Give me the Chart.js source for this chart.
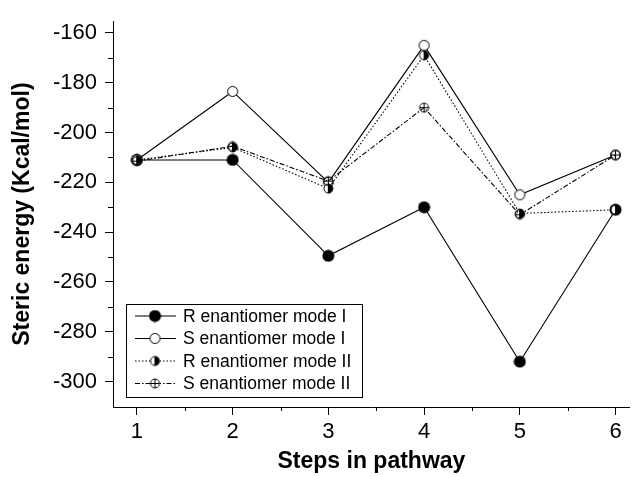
<!DOCTYPE html>
<html>
<head>
<meta charset="utf-8">
<script src="https://cdn.jsdelivr.net/npm/chart.js@4.4.0/dist/chart.umd.min.js"></script>
<style>
  html, body { margin: 0; padding: 0; background: #fff; }
  #wrap { width: 637px; height: 477px; }
</style>
</head>
<body>
<div id="wrap"><canvas id="chart" width="637" height="477"></canvas></div>
<script>
// Data
const steps = [1, 2, 3, 4, 5, 6];
const rModeI  = [-211, -211, -249.5, -230, -292, -231];
const sModeI  = [-211, -183.5, -220, -165, -225, -209];
const rModeII = [-211, -206, -222.5, -169, -232.5, -231];
const sModeII = [-211.5, -205.5, -219.5, -190, -233, -209];
const seriesNames = ['R enantiomer mode I', 'S enantiomer mode I', 'R enantiomer mode II', 'S enantiomer mode II'];

// Tick labels
const xTickValues = [1, 2, 3, 4, 5, 6];
const xMinorTicks = [1.5, 2.5, 3.5, 4.5, 5.5];
const yTickValues = [-160, -180, -200, -220, -240, -260, -280, -300];
const yMinorTicks = [-170, -190, -210, -230, -250, -270, -290];

const FONT = '"Liberation Sans", Arial, Helvetica, sans-serif';

// Build small marker images for the point styles
function makeMarker(kind) {
    const c = document.createElement('canvas');
    c.width = 13; c.height = 13;
    const g = c.getContext('2d');
    const cx = 6.5, cy = 6.5;
    g.lineWidth = 1;
    g.strokeStyle = '#000';
    if (kind === 'filled') {
        g.beginPath(); g.arc(cx, cy, 6, 0, Math.PI * 2);
        g.fillStyle = '#000'; g.fill();
    } else if (kind === 'open') {
        g.beginPath(); g.arc(cx, cy, 5, 0, Math.PI * 2);
        g.fillStyle = '#fff'; g.fill(); g.stroke();
    } else if (kind === 'half') {
        g.beginPath(); g.arc(cx, cy, 4.5, 0, Math.PI * 2);
        g.fillStyle = '#fff'; g.fill();
        g.beginPath(); g.arc(cx, cy, 4.5, -Math.PI / 2, Math.PI / 2);
        g.closePath(); g.fillStyle = '#000'; g.fill();
        g.beginPath(); g.arc(cx, cy, 4.5, 0, Math.PI * 2); g.stroke();
        g.beginPath(); g.moveTo(cx, cy - 4.5); g.lineTo(cx, cy + 4.5); g.stroke();
    } else if (kind === 'cross') {
        g.beginPath(); g.arc(cx, cy, 4.5, 0, Math.PI * 2);
        g.stroke();
        g.beginPath();
        g.moveTo(cx, cy - 4.5); g.lineTo(cx, cy + 4.5);
        g.moveTo(cx - 4.5, cy); g.lineTo(cx + 4.5, cy);
        g.stroke();
    }
    return c;
}

const markers = [makeMarker('filled'), makeMarker('open'), makeMarker('half'), makeMarker('cross')];
const dashes = [[], [], [1.5, 2], [5, 2, 1.5, 2]];
const seriesData = [rModeI, sModeI, rModeII, sModeII];

const datasets = seriesData.map(function(vals, i) {
    return {
        label: seriesNames[i],
        data: steps.map(function(s, j) { return { x: s, y: vals[j] }; }),
        borderColor: '#000',
        borderWidth: 1.1,
        borderDash: dashes[i],
        pointStyle: markers[i],
        pointRadius: 6,
        fill: false,
        tension: 0,
        clip: false,
        order: 4 - i
    };
});

// Minor ticks on both axes
const minorTicks = {
    id: 'minorTicks',
    afterDraw: function(chart) {
        const ctx = chart.ctx;
        const xs = chart.scales.x, ys = chart.scales.y;
        const area = chart.chartArea;
        ctx.save();
        ctx.strokeStyle = '#000';
        ctx.lineWidth = 1;
        ctx.beginPath();
        yMinorTicks.forEach(function(v) {
            const p = Math.round(ys.getPixelForValue(v)) + 0.5;
            ctx.moveTo(area.left - 5, p); ctx.lineTo(area.left, p);
        });
        xMinorTicks.forEach(function(v) {
            const p = Math.round(xs.getPixelForValue(v)) + 0.5;
            ctx.moveTo(p, area.bottom); ctx.lineTo(p, area.bottom + 4);
        });
        ctx.stroke();
        ctx.restore();
    }
};

// Boxed legend inside the plot area, lower left
const boxLegend = {
    id: 'boxLegend',
    afterDraw: function(chart) {
        const ctx = chart.ctx;
        const left = 126, top = 304, width = 236, height = 93;
        ctx.save();
        ctx.fillStyle = '#fff';
        ctx.fillRect(left, top, width, height);
        ctx.strokeStyle = '#000';
        ctx.lineWidth = 1;
        ctx.strokeRect(left + 0.5, top + 0.5, width, height);
        ctx.font = '17.5px ' + FONT;
        ctx.textBaseline = 'middle';
        ctx.fillStyle = '#000';
        for (let i = 0; i < seriesNames.length; i++) {
            const y = top + 12 + i * 22.5;
            ctx.setLineDash(dashes[i]);
            ctx.lineWidth = 1.1;
            ctx.beginPath();
            ctx.moveTo(135, y); ctx.lineTo(176, y);
            ctx.stroke();
            ctx.setLineDash([]);
            const m = markers[i];
            if (i === 3) {
                ctx.fillStyle = '#fff';
                ctx.beginPath(); ctx.arc(155, y, 4.5, 0, Math.PI * 2); ctx.fill();
                ctx.fillStyle = '#000';
            }
            ctx.drawImage(m, 155 - m.width / 2, y - m.height / 2);
            ctx.fillText(seriesNames[i], 183, y + 1);
        }
        ctx.restore();
    }
};

new Chart(document.getElementById('chart').getContext('2d'), {
    type: 'line',
    data: { datasets: datasets },
    options: {
        responsive: false,
        animation: false,
        layout: { padding: { top: 12, right: 0, left: 0, bottom: 0 } },
        plugins: {
            legend: { display: false },
            tooltip: { enabled: false }
        },
        scales: {
            x: {
                type: 'linear',
                min: 0.75,
                max: 6.15,
                afterBuildTicks: function(s) { s.ticks = xTickValues.map(function(v) { return { value: v }; }); },
                afterFit: function(s) { s.height = 70; },
                grid: { drawOnChartArea: false, drawTicks: true, tickLength: 8, tickColor: '#000' },
                border: { display: true, color: '#000', width: 1 },
                ticks: { color: '#000', font: { family: FONT, size: 22 }, padding: 4, maxRotation: 0 },
                title: { display: true, text: 'Steps in pathway', color: '#000',
                         font: { family: FONT, size: 23, weight: 'bold' }, padding: { top: 0, bottom: 2 } }
            },
            y: {
                min: -310.2,
                max: -155.3,
                afterBuildTicks: function(s) { s.ticks = yTickValues.map(function(v) { return { value: v }; }); },
                afterFit: function(s) { s.width = 113; },
                grid: { drawOnChartArea: false, drawTicks: true, tickLength: 8, tickColor: '#000' },
                border: { display: true, color: '#000', width: 1 },
                ticks: { color: '#000', font: { family: FONT, size: 22 }, padding: 8 },
                title: { display: true, text: 'Steric energy (Kcal/mol)', color: '#000',
                         font: { family: FONT, size: 23, weight: 'bold' }, padding: { top: 9, bottom: 0 } }
            }
        }
    },
    plugins: [minorTicks, boxLegend]
});
</script>
</body>
</html>
